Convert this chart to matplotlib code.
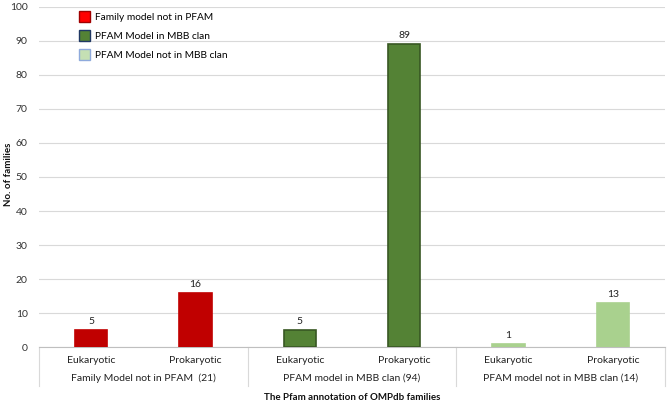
import matplotlib.pyplot as plt
import matplotlib.transforms as mtransforms
from matplotlib.patches import Patch

plt.rcParams['font.family'] = ['Lato', 'DejaVu Sans']

# data
groups = ["Family Model not in PFAM  (21)", "PFAM model in MBB clan (94)", "PFAM model not in MBB clan (14)"]
kinds = ["Eukaryotic", "Prokaryotic"]
counts = [[5, 16], [5, 89], [1, 13]]
legend_labels = ["Family model not in PFAM", "PFAM Model in MBB clan", "PFAM Model not in MBB clan"]

bar_colors = ["#C00000", "#548235", "#A9D18E"]
edge_colors = ["#C00000", "#385723", "#A9D18E"]
legend_faces = ["#FF0000", "#548235", "#C5E0B4"]
legend_edges = ["#A00000", "#203864", "#8FAADC"]

fig = plt.figure(figsize=(6.69, 4.05), dpi=100)
ax = fig.add_axes([0.058, 0.143, 0.936, 0.84])

x = 0
for g, vals in enumerate(counts):
    for v in vals:
        ax.bar(x, v, width=0.31, color=bar_colors[g], edgecolor=edge_colors[g], linewidth=1.2, zorder=3)
        ax.text(x, v + 1.2, str(v), ha='center', va='bottom', fontsize=7.5, color='#222222')
        x += 1

n = sum(len(v) for v in counts)
ax.set_xlim(-0.5, n - 0.5)
ax.set_ylim(0, 100)
ax.set_yticks(range(0, 101, 10))
ax.tick_params(axis='y', length=0, labelsize=7.5, pad=8, labelcolor='#333333')
ax.set_xticks([])
ax.grid(axis='y', color='#D9D9D9', linewidth=0.8, zorder=0)
for s in ['top', 'right', 'left']:
    ax.spines[s].set_visible(False)
ax.spines['bottom'].set_color('#BFBFBF')
ax.spines['bottom'].set_linewidth(0.8)

# two-level category axis
trans = mtransforms.blended_transform_factory(ax.transData, ax.transAxes)
i = 0
edges = [-0.5]
for g, vals in enumerate(counts):
    for k in range(len(vals)):
        ax.text(i, -0.04, kinds[k], transform=trans, ha='center', va='center', fontsize=7.5, color='#222222')
        i += 1
    ax.text(i - len(vals) / 2 - 0.5, -0.092, groups[g], transform=trans, ha='center', va='center',
            fontsize=7.5, color='#222222')
    edges.append(i - 0.5)
for e in edges:
    ax.plot([e, e], [0, -0.113], transform=trans, color='#D9D9D9', linewidth=0.8, clip_on=False)

ax.text(0.5, -0.147, "The Pfam annotation of OMPdb families", transform=ax.transAxes,
        ha='center', va='center', fontsize=7, fontweight='bold', color='#111111')
fig.text(0.013, 0.57, "No. of families", rotation=90, ha='center', va='center',
         fontsize=7, fontweight='bold', color='#111111')

handles = [Patch(facecolor=legend_faces[j], edgecolor=legend_edges[j], linewidth=1) for j in range(3)]
ax.legend(handles, legend_labels, loc='upper left', bbox_to_anchor=(0.05, 1.015), frameon=False,
          fontsize=7.3, handlelength=1.1, handleheight=1.3, labelspacing=0.8, handletextpad=0.5)

fig.savefig("out.png", dpi=100)
